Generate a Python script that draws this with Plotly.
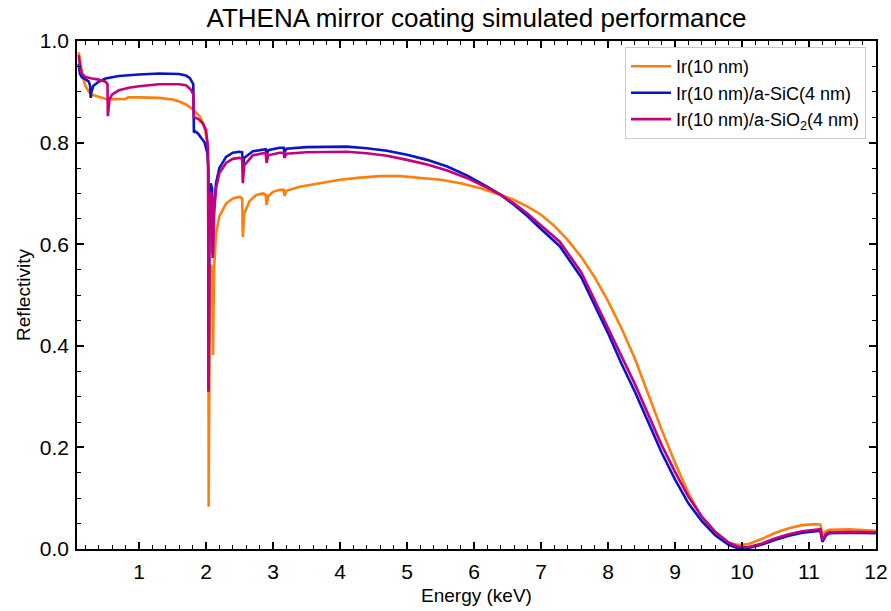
import plotly.graph_objects as go

# ---- data ----
ir_E = [0.10, 0.13, 0.16, 0.20, 0.25, 0.30, 0.40, 0.50, 0.53, 0.80, 0.84, 1.0, 1.3, 1.5, 1.6, 1.7, 1.8, 1.9, 1.97, 2.02, 2.035,
        2.04, 2.05, 2.06, 2.08, 2.095, 2.105, 2.12, 2.15, 2.2, 2.3, 2.4, 2.5, 2.54, 2.55, 2.57, 2.65, 2.75, 2.85, 2.89, 2.905,
        2.93, 3.0, 3.1, 3.16, 3.17, 3.2, 3.4, 3.7, 4.0, 4.3, 4.6, 4.9, 5.2, 5.5, 5.8, 6.1, 6.4, 6.6, 6.8, 7.0, 7.2, 7.4,
        7.6, 7.8, 8.0, 8.2, 8.4, 8.6, 8.8, 9.0, 9.2, 9.4, 9.6, 9.8, 9.95, 10.1, 10.3, 10.5, 10.7, 10.9, 11.1, 11.17, 11.2,
        11.25, 11.3, 11.6, 12.0]
ir_R = [0.978, 0.955, 0.930, 0.912, 0.900, 0.894, 0.890, 0.887, 0.885, 0.886, 0.889, 0.889, 0.888, 0.885, 0.881, 0.875, 0.866, 0.853, 0.835, 0.800, 0.750,
        0.083, 0.450, 0.550, 0.560, 0.500, 0.382, 0.550, 0.620, 0.655, 0.680, 0.690, 0.693, 0.690, 0.614, 0.660, 0.685, 0.697, 0.700, 0.698, 0.677,
        0.695, 0.703, 0.707, 0.707, 0.695, 0.705, 0.713, 0.720, 0.727, 0.731, 0.734, 0.734, 0.731, 0.727, 0.720, 0.710, 0.697, 0.687, 0.674, 0.658, 0.636, 0.608,
        0.575, 0.535, 0.488, 0.435, 0.375, 0.305, 0.235, 0.170, 0.110, 0.062, 0.030, 0.012, 0.008, 0.010, 0.020, 0.032, 0.041, 0.047, 0.049, 0.048, 0.028,
        0.035, 0.038, 0.039, 0.036]

sic_E = [0.10, 0.12, 0.15, 0.20, 0.25, 0.27, 0.28, 0.29, 0.32, 0.40, 0.5, 0.7, 1.0, 1.3, 1.6, 1.7, 1.76, 1.81, 1.82, 1.84, 1.88, 1.93, 1.98, 2.02, 2.035,
         2.04, 2.05, 2.07, 2.09, 2.10, 2.12, 2.15, 2.2, 2.3, 2.4, 2.5, 2.54, 2.55, 2.57, 2.7, 2.85, 2.89, 2.905, 2.93, 3.1, 3.16, 3.17,
         3.2, 3.5, 3.8, 4.1, 4.4, 4.7, 5.0, 5.3, 5.6, 5.9, 6.2, 6.4, 6.6, 6.8, 7.0, 7.28, 7.6, 8.0, 8.2, 8.4, 8.6, 8.8, 9.0, 9.2,
         9.4, 9.6, 9.8, 9.95, 10.1, 10.3, 10.5, 10.7, 10.9, 11.1, 11.17, 11.2, 11.25, 11.3, 11.6, 12.0]
sic_R = [0.955, 0.935, 0.928, 0.925, 0.920, 0.912, 0.888, 0.900, 0.912, 0.920, 0.926, 0.931, 0.934, 0.936, 0.935, 0.932, 0.927, 0.915, 0.820, 0.822, 0.818, 0.810, 0.800, 0.780, 0.750,
         0.310, 0.620, 0.720, 0.710, 0.580, 0.670, 0.720, 0.750, 0.772, 0.780, 0.782, 0.781, 0.750, 0.770, 0.783, 0.787, 0.787, 0.776, 0.785, 0.790, 0.790, 0.781,
         0.788, 0.791, 0.792, 0.792, 0.789, 0.784, 0.776, 0.766, 0.753, 0.735, 0.713, 0.697, 0.677, 0.655, 0.630, 0.596, 0.535, 0.425, 0.365, 0.310, 0.250, 0.190, 0.137, 0.090,
         0.055, 0.027, 0.008, 0.001, 0.002, 0.009, 0.018, 0.026, 0.032, 0.036, 0.036, 0.014, 0.026, 0.031, 0.032, 0.031]

sio2_E = [0.10, 0.12, 0.15, 0.2, 0.3, 0.4, 0.5, 0.53, 0.535, 0.56, 0.6, 0.7, 0.85, 1.0, 1.3, 1.6, 1.7, 1.77, 1.81, 1.82, 1.86, 1.9, 1.95, 2.0, 2.03,
          2.04, 2.05, 2.07, 2.09, 2.10, 2.12, 2.15, 2.2, 2.3, 2.4, 2.5, 2.54, 2.55, 2.57, 2.7, 2.85, 2.89, 2.905, 2.93, 3.1, 3.16, 3.17,
          3.2, 3.5, 3.8, 4.1, 4.4, 4.7, 5.0, 5.3, 5.6, 5.9, 6.2, 6.4, 6.6, 6.8, 7.0, 7.28, 7.6, 8.0, 8.2, 8.4, 8.6, 8.8, 9.0, 9.2,
          9.4, 9.6, 9.8, 9.95, 10.1, 10.3, 10.5, 10.7, 10.9, 11.1, 11.17, 11.2, 11.25, 11.3, 11.6, 12.0]
sio2_R = [0.972, 0.950, 0.935, 0.929, 0.926, 0.924, 0.920, 0.915, 0.852, 0.885, 0.895, 0.903, 0.908, 0.911, 0.915, 0.915, 0.913, 0.905, 0.895, 0.850, 0.848, 0.845, 0.838, 0.825, 0.790,
          0.310, 0.600, 0.703, 0.690, 0.573, 0.660, 0.710, 0.740, 0.760, 0.768, 0.770, 0.768, 0.720, 0.755, 0.775, 0.779, 0.779, 0.760, 0.775, 0.780, 0.780, 0.770,
          0.778, 0.781, 0.782, 0.782, 0.779, 0.774, 0.766, 0.757, 0.745, 0.730, 0.711, 0.697, 0.680, 0.660, 0.637, 0.605, 0.545, 0.435, 0.380, 0.325, 0.265, 0.205, 0.152, 0.103,
          0.064, 0.034, 0.013, 0.004, 0.004, 0.011, 0.021, 0.029, 0.035, 0.039, 0.039, 0.017, 0.029, 0.033, 0.034, 0.033]

names = ["Ir(10 nm)", "Ir(10 nm)/a-SiC(4 nm)", "Ir(10 nm)/a-SiO<sub>2</sub>(4 nm)"]
colors = ["#ff7f0e", "#0a14c8", "#c4007e"]

fig = go.Figure()
for E, R, n, c in [(ir_E, ir_R, names[0], colors[0]),
                   (sic_E, sic_R, names[1], colors[1]),
                   (sio2_E, sio2_R, names[2], colors[2])]:
    fig.add_trace(go.Scatter(x=E, y=R, mode="lines", name=n,
                             line=dict(color=c, width=2.6)))

axis_common = dict(
    showline=True, linecolor="black", linewidth=1.6, mirror="allticks",
    ticks="inside", ticklen=7, tickwidth=1.5, tickcolor="black",
    showgrid=False, zeroline=False, automargin=False,
    ticklabeloverflow="allow",
    tickfont=dict(size=21, color="black"),
)

fig.update_xaxes(range=[0.075, 12], tick0=0, dtick=1, ticklabelstandoff=3,
                 minor=dict(ticks="inside", ticklen=4, tickwidth=1.2, tickcolor="black", dtick=0.2, tick0=0, showgrid=False),
                 title=dict(text="Energy (keV)", font=dict(size=19, color="black"), standoff=7),
                 **axis_common)
fig.update_yaxes(range=[0, 1.0], tick0=0, dtick=0.2, tickformat=".1f", ticklabelstandoff=2,
                 minor=dict(ticks="inside", ticklen=4, tickwidth=1.2, tickcolor="black", dtick=0.05, tick0=0, showgrid=False),
                 title=dict(text="Reflectivity", font=dict(size=19, color="black"), standoff=4),
                 **axis_common)

fig.update_layout(
    width=891, height=611,
    margin=dict(l=77, r=15, t=41, b=62),
    paper_bgcolor="white", plot_bgcolor="white",
    font=dict(family="Liberation Sans, Arial, sans-serif", color="black"),
    title=dict(text="ATHENA mirror coating simulated performance", x=0.5, xref="paper", xanchor="center",
               y=1 - 18 / 611, yanchor="middle", font=dict(size=26, color="black")),
    legend=dict(x=0.9875, y=0.988, xanchor="right", yanchor="top",
                bgcolor="white", bordercolor="#cccccc", borderwidth=1,
                font=dict(size=18, color="black"), tracegroupgap=0,
                itemwidth=40),
    showlegend=True,
)

fig.write_html("out.html", config={"displayModeBar": False},
               post_script="document.body.style.margin='0px';document.body.style.overflow='hidden';")
